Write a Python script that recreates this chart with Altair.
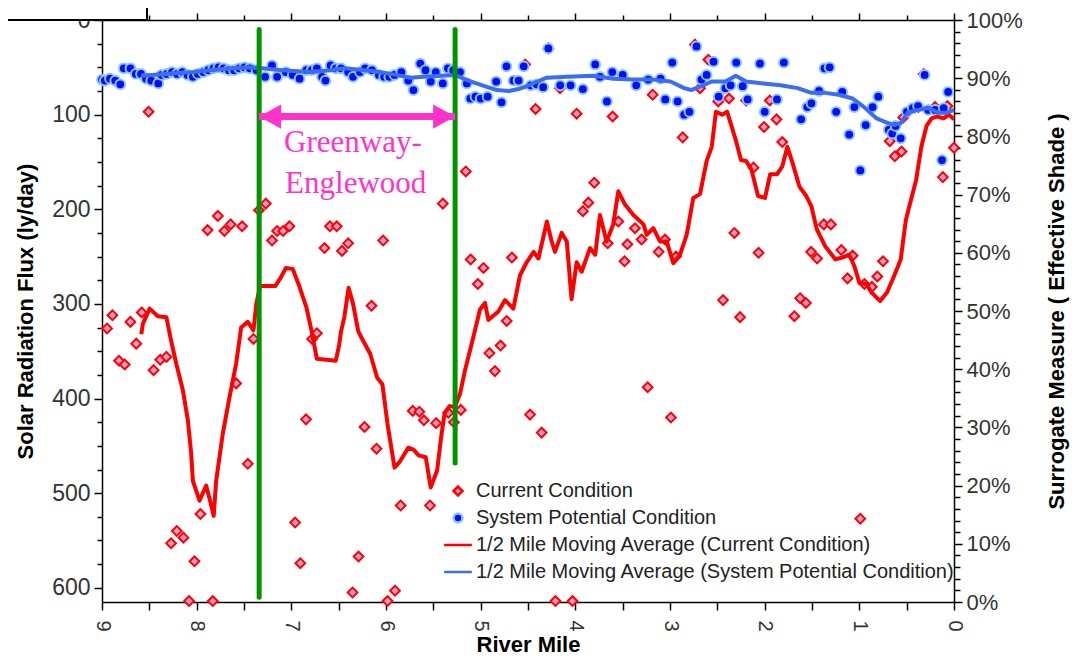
import altair as alt
import pandas as pd

# ---------------- data ----------------
cur_mile = [8.947, 8.89, 8.82, 8.76, 8.70, 8.638, 8.58, 8.508, 8.455, 8.385, 8.32, 8.27, 8.21, 8.14,
            8.08, 8.023, 7.96, 7.885, 7.83, 7.776, 7.707, 7.641, 7.583, 7.52, 7.46, 7.40, 7.342, 7.27,
            7.204, 7.15, 7.087, 7.02, 6.96, 6.905, 6.845, 6.78, 6.73, 6.65, 6.592, 6.52, 6.465, 6.40,
            6.353, 6.29, 6.227, 6.153, 6.10, 6.03, 5.984, 5.905, 5.845, 5.718, 5.648, 5.60, 5.535, 5.47,
            5.40, 5.342, 5.282, 5.21, 5.157, 5.106, 5.03, 4.97, 4.908, 4.85, 4.79, 4.725, 4.67, 4.53,
            4.479, 4.42, 4.356, 4.285, 4.21, 4.162, 4.03, 3.986, 3.92, 3.863, 3.80, 3.658, 3.606, 3.546,
            3.48, 3.45, 3.37, 3.30, 3.236, 3.183, 3.12, 3.053, 2.99, 2.937, 2.866, 2.736, 2.683, 2.595,
            2.49, 2.44, 2.377, 2.32, 2.26, 2.196, 2.118, 2.064, 2.007, 1.946, 1.875, 1.814, 1.686, 1.625,
            1.564, 1.51, 1.446, 1.375, 1.30, 1.19, 1.125, 1.071, 0.99, 0.946, 0.868, 0.81, 0.75, 0.679,
            0.625, 0.554, 0.536, 0.375, 0.32, 0.2, 0.118, 0.07, 0.0]
cur_flux = [326, 312, 360, 364, 319, 342, 309, 97, 370, 359, 356, 553, 540, 547,
            614, 572, 522, 222, 614, 207, 223, 216, 384, 218, 469, 337, 201, 194,
            233, 223, 223, 218, 531, 574, 422, 337, 331, 241, 218, 218, 244, 236,
            605, 567, 430, 302, 453, 233, 614, 603, 513, 413, 414, 423, 513, 426,
            194, 415, 425, 412, 160, 253, 279, 262, 352, 371, 344, 318, 251, 47,
            417, 94, 436, 30, 614, 72, 614, 99, 202, 193, 172, 236, 102, 213,
            255, 237, 220, 232, 388, 79, 245, 232, 420, 250, 124, 26, 72, 42,
            86, 296, 83, 225, 314, 85, 156, 246, 113, 85, 105, 129, 313, 294,
            299, 245, 252, 216, 216, 243, 273, 249, 527, 279, 282, 271, 255, 128,
            144, 139, 103, 92, 57, 92, 166, 91, 135]

sp_mile = [9.0, 8.97, 8.916, 8.86, 8.807, 8.77, 8.70, 8.643, 8.588, 8.534, 8.48, 8.406, 8.37, 8.315,
           8.26, 8.206, 8.15, 8.097, 8.04, 7.987, 7.93, 7.878, 7.823, 7.77, 7.714, 7.66, 7.605, 7.55,
           7.495, 7.44, 7.368, 7.277, 7.204, 7.15, 7.058, 6.985, 6.913, 6.84, 6.785, 6.73, 6.676, 6.64,
           6.585, 6.53, 6.475, 6.40, 6.348, 6.275, 6.22, 6.148, 6.075, 6.02, 5.965, 5.91, 5.838, 5.765,
           5.71, 5.638, 5.583, 5.528, 5.474, 5.40, 5.346, 5.29, 5.218, 5.146, 5.11, 5.055, 5.0, 4.927,
           4.836, 4.78, 4.727, 4.654, 4.60, 4.545, 4.47, 4.41, 4.34, 4.285, 4.16, 4.05, 3.92, 3.79,
           3.74, 3.666, 3.61, 3.50, 3.357, 3.23, 3.10, 3.05, 2.976, 2.92, 2.85, 2.795, 2.72, 2.668,
           2.613, 2.54, 2.486, 2.414, 2.36, 2.30, 2.232, 2.18, 2.05, 2.0, 1.87, 1.797, 1.615, 1.55,
           1.506, 1.426, 1.368, 1.314, 1.245, 1.18, 1.107, 1.053, 0.99, 0.933, 0.86, 0.80, 0.69, 0.653,
           0.617, 0.563, 0.497, 0.435, 0.38, 0.31, 0.272, 0.2, 0.127, 0.109, 0.062]
sp_flux = [63, 64, 62, 64, 68, 51, 51, 57, 57, 62, 64, 67, 58, 57,
           55, 57, 55, 58, 60, 57, 55, 53, 51, 50, 51, 53, 53, 51,
           50, 51, 53, 60, 48, 60, 55, 58, 62, 53, 53, 51, 60, 64,
           48, 51, 51, 55, 60, 55, 51, 53, 58, 60, 60, 58, 55, 64,
           74, 46, 53, 65, 55, 67, 51, 53, 55, 67, 83, 81, 83, 81,
           65, 87, 49, 64, 64, 49, 69, 68, 71, 30, 69, 69, 73, 47,
           60, 86, 55, 58, 69, 63, 62, 84, 45, 86, 100, 97, 28, 63,
           58, 44, 81, 72, 69, 45, 70, 84, 46, 97, 84, 45, 105, 92,
           88, 75, 51, 50, 97, 76, 121, 92, 159, 111, 92, 81, 116, 120,
           112, 125, 97, 93, 91, 58, 95, 95, 148, 93, 76]

cur_ma_mile = [8.585, 8.568, 8.497, 8.41, 8.32, 8.27, 8.216, 8.146, 8.093, 8.058, 8.04, 7.97, 7.90,
               7.858, 7.82, 7.794, 7.724, 7.654, 7.583, 7.53, 7.46, 7.40, 7.37, 7.33, 7.313, 7.168,
               7.11, 7.058, 6.985, 6.91, 6.84, 6.785, 6.767, 6.73, 6.53, 6.494, 6.475, 6.44, 6.395,
               6.348, 6.293, 6.257, 6.166, 6.093, 6.038, 5.984, 5.91, 5.856, 5.765, 5.71, 5.655,
               5.58, 5.528, 5.46, 5.418, 5.38, 5.328, 5.273, 5.218, 5.165, 5.077, 5.007, 4.954,
               4.919, 4.813, 4.743, 4.655, 4.585, 4.514, 4.44, 4.39, 4.30, 4.25, 4.215, 4.144, 4.09,
               4.04, 3.986, 3.933, 3.845, 3.79, 3.74, 3.67, 3.60, 3.546, 3.475, 3.387, 3.28, 3.246,
               3.176, 3.106, 3.035, 2.965, 2.894, 2.824, 2.754, 2.683, 2.613, 2.559, 2.515, 2.45,
               2.396, 2.305, 2.25, 2.196, 2.14, 2.07, 1.996, 1.942, 1.87, 1.815, 1.76, 1.706, 1.633,
               1.56, 1.506, 1.45, 1.361, 1.252, 1.18, 1.107, 1.053, 0.998, 0.926, 0.871, 0.78, 0.708,
               0.635, 0.563, 0.508, 0.454, 0.40, 0.345, 0.29, 0.236, 0.18, 0.109, 0.054, 0.0]
cur_ma_flux = [332, 321, 305, 313, 314, 339, 363, 391, 423, 458, 487, 508, 492,
               508, 524, 487, 437, 399, 363, 325, 319, 328, 300, 281, 281, 281,
               272, 262, 263, 283, 304, 329, 339, 358, 360, 343, 329, 314, 283,
               300, 329, 336, 353, 378, 385, 427, 473, 467, 452, 454, 460,
               462, 494, 476, 441, 415, 408, 409, 395, 370, 335, 306, 299,
               317, 308, 296, 305, 270, 256, 245, 252, 213, 234, 245, 225, 234,
               295, 256, 266, 241, 248, 206, 234, 216, 181, 195, 206, 216, 227,
               220, 234, 234, 257, 248, 227, 188, 184, 149, 134, 97, 100,
               97, 127, 148, 149, 158, 186, 188, 163, 163, 155, 134, 151, 176,
               186, 197, 221, 239, 253, 251, 248, 260, 278, 279, 288, 297, 288,
               271, 253, 211, 190, 169, 134, 112, 104, 102, 104, 100, 105]

sp_ma_mile = [8.588, 8.333, 8.04, 7.75, 7.459, 7.313, 7.095, 6.80, 6.585, 6.44, 6.22, 6.075, 5.89,
              5.747, 5.60, 5.42, 5.273, 5.13, 4.982, 4.83, 4.70, 4.60, 4.514, 4.40, 4.30, 4.09, 3.81,
              3.60, 3.387, 3.176, 2.995, 2.85, 2.777, 2.668, 2.559, 2.414, 2.305, 2.196, 2.015, 1.833,
              1.652, 1.506, 1.361, 1.216, 1.071, 0.962, 0.817, 0.744, 0.635, 0.563, 0.49, 0.38, 0.272,
              0.163, 0.073, 0.0]
sp_ma_flux = [59, 57, 55, 52, 50, 51, 53, 55, 53, 51, 53, 55, 58,
              61, 60, 59, 58, 64, 69, 74, 75, 73, 70, 65, 61, 60, 59,
              62, 63, 63, 65, 72, 74, 70, 65, 65, 59, 65, 67, 69,
              72, 77, 77, 79, 83, 91, 104, 107, 111, 109, 98, 95, 93,
              98, 98, 95]

green_mile = [7.34, 5.27]
green_top = [10, 10]
green_bottom = [610, 468]

arrow_left_mile = [7.34]
arrow_right_mile = [5.27]
arrow_flux = [102]

reach_text = ["Greenway-", "Englewood"]
reach_text_mile = [6.35, 6.32]
reach_text_flux = [139, 183]

S_CUR = "Current Condition"
S_SP = "System Potential Condition"
S_CMA = "1/2 Mile Moving Average (Current Condition)"
S_SMA = "1/2 Mile Moving Average (System Potential Condition)"
series_names = [S_CUR, S_SP, S_CMA, S_SMA]

# ---------------- tables ----------------
pts = pd.concat([
    pd.DataFrame({"mile": cur_mile, "flux": cur_flux, "series": S_CUR}),
    pd.DataFrame({"mile": sp_mile, "flux": sp_flux, "series": S_SP}),
], ignore_index=True)

lines = pd.concat([
    pd.DataFrame({"mile": cur_ma_mile, "flux": cur_ma_flux, "series": S_CMA,
                  "k": range(len(cur_ma_mile))}),
    pd.DataFrame({"mile": sp_ma_mile, "flux": sp_ma_flux, "series": S_SMA,
                  "k": range(len(sp_ma_mile))}),
], ignore_index=True)

green = pd.DataFrame({"mile": green_mile, "flux": green_top, "flux2": green_bottom})
shaft = pd.DataFrame({"mile": arrow_left_mile, "mile2": arrow_right_mile, "flux": arrow_flux})
head_l = pd.DataFrame({"mile": arrow_left_mile, "flux": arrow_flux})
head_r = pd.DataFrame({"mile": arrow_right_mile, "flux": arrow_flux})
txt = pd.DataFrame({"mile": reach_text_mile, "flux": reach_text_flux, "t": reach_text})
frame = pd.DataFrame({"mile2": [0, 9], "pct": [0.0, 1.0]})

# ---------------- style ----------------
FONT = "Liberation Sans"
PINK = "#FF33CC"
LINE_PATH = "M-3.1,0L3.1,0"

xscale = alt.Scale(domain=[0, 9], reverse=True, nice=False, zero=False)
yscale = alt.Scale(domain=[0, 615], reverse=True, nice=False, zero=False)

legend = alt.Legend(title=None, orient="none", legendX=346, legendY=461, direction="vertical",
                    labelFont=FONT, labelFontSize=20, labelColor="#222222", labelLimit=700,
                    symbolSize=80, symbolStrokeWidth=2.5, labelOffset=8, rowPadding=7, padding=0)

ser_shape = alt.Scale(domain=series_names, range=["diamond", "circle", LINE_PATH, LINE_PATH])
ser_fill = alt.Scale(domain=series_names, range=["#FF9CC8", "#0010F5", "#FF0000", "#3A6CF4"])
ser_stroke = alt.Scale(domain=series_names, range=["#FF0000", "#8EC4FF", "#FF0000", "#3A6CF4"])

x_bottom = alt.Axis(orient="bottom", values=[i * 0.5 for i in range(19)],
                    labelExpr="datum.value % 1 === 0 ? format(datum.value, 'd') : ''",
                    labelAngle=90, labelFont=FONT, labelFontSize=20, labelColor="#333333",
                    labelPadding=10, labelFlush=False, labelOverlap=False,
                    tickSize=8, tickWidth=1.5, tickColor="black", domainColor="black", domainWidth=1.5,
                    grid=False, title="River Mile", titleFont=FONT, titleFontSize=22,
                    titleFontWeight="bold", titleColor="black", titlePadding=3)

y_left = alt.Axis(orient="left", values=[i * 25 for i in range(25)],
                  labelExpr="datum.value % 100 === 0 ? format(datum.value, 'd') : ''",
                  labelFont=FONT, labelFontSize=23, labelColor="#333333", labelPadding=4,
                  labelOverlap=False, labelFlush=False,
                  tickSize={"condition": {"test": "datum.value % 100 === 0", "value": 8}, "value": 5},
                  tickWidth=1.5, tickColor="black", domainColor="black", domainWidth=1.5, grid=False,
                  title="Solar Radiation Flux (ly/day)", titleFont=FONT, titleFontSize=22,
                  titleFontWeight="bold", titleColor="black", titleX=-77, titleY=291,
                  titleAngle=270, titleAlign="center", titleBaseline="middle")

x_top = alt.Axis(orient="top", values=[i * 0.5 for i in range(19)], labels=False, title="",
                 tickSize={"condition": {"test": "datum.value % 1 === 0", "value": 7}, "value": 5},
                 tickWidth=1.5, tickColor="black", domainColor="black", domainWidth=1.5, grid=False)

y_right = alt.Axis(orient="right", values=[round(i * 0.02, 2) for i in range(51)],
                   labelExpr="round(datum.value * 100) % 10 === 0 ? format(datum.value, '.0%') : ''",
                   labelFont=FONT, labelFontSize=22, labelColor="#333333", labelPadding=4,
                   labelOverlap=False, labelFlush=False,
                   tickSize={"condition": {"test": "round(datum.value * 100) % 10 === 0", "value": 8},
                             "value": 6},
                   tickWidth=1.5, tickColor="black", domainColor="black", domainWidth=1.5, grid=False,
                   title="Surrogate Measure ( Effective Shade )", titleFont=FONT, titleFontSize=22,
                   titleFontWeight="bold", titleColor="black", titleX=102, titleY=291,
                   titleAngle=270, titleAlign="center", titleBaseline="middle")


def X():
    return alt.X("mile:Q", scale=xscale, axis=x_bottom)


def Y():
    return alt.Y("flux:Q", scale=yscale, axis=y_left)


points_layer = alt.Chart(pts).mark_point(filled=True, size=95, strokeWidth=2, opacity=1).encode(
    x=X(), y=Y(),
    shape=alt.Shape("series:N", scale=ser_shape, legend=legend),
    fill=alt.Fill("series:N", scale=ser_fill, legend=legend),
    stroke=alt.Stroke("series:N", scale=ser_stroke, legend=legend),
)

lines_layer = alt.Chart(lines).mark_line(strokeWidth=4, strokeJoin="round").encode(
    x=X(), y=Y(),
    stroke=alt.Stroke("series:N", scale=ser_stroke, legend=legend),
    detail="series:N",
    order="k:Q",
)

green_layer = alt.Chart(green).mark_rule(strokeWidth=5, color="#009400", strokeCap="round").encode(
    x=X(), y=Y(), y2="flux2:Q")

shaft_layer = alt.Chart(shaft).mark_rule(strokeWidth=7, color=PINK).encode(
    x=X(), x2="mile2:Q", y=Y())

head_l_layer = alt.Chart(head_l).mark_point(shape="M0,0L1,-0.55L1,0.55Z", size=1936, filled=True,
                                            color=PINK, opacity=1, strokeWidth=0).encode(x=X(), y=Y())
head_r_layer = alt.Chart(head_r).mark_point(shape="M0,0L-1,-0.55L-1,0.55Z", size=1936, filled=True,
                                            color=PINK, opacity=1, strokeWidth=0).encode(x=X(), y=Y())

text_layer = alt.Chart(txt).mark_text(font="Liberation Serif", fontSize=31, color=PINK,
                                      align="center", baseline="alphabetic").encode(
    x=X(), y=Y(), text="t:N")

box_layer = alt.Chart(frame).mark_rect(fill="white", stroke="black", strokeWidth=2).encode(
    x=alt.value(-110), x2=alt.value(45), y=alt.value(-30), y2=alt.value(0))

main = alt.layer(points_layer, lines_layer, green_layer, shaft_layer, head_l_layer, head_r_layer,
                 text_layer, box_layer)

right_layer = alt.Chart(frame).mark_point(opacity=0).encode(
    x=alt.X("mile2:Q", scale=alt.Scale(domain=[0, 9], reverse=True, nice=False, zero=False), axis=x_top),
    y=alt.Y("pct:Q", scale=alt.Scale(domain=[0, 1], nice=False, zero=False), axis=y_right),
)

chart = alt.layer(main, right_layer).resolve_scale(x="independent", y="independent").properties(
    width=852, height=582,
    padding={"left": 94, "top": 12, "right": 116, "bottom": 56},
    autosize=alt.AutoSizeParams(type="none"),
    background="white",
).configure_view(stroke="transparent")

chart.save("out.html", embed_options={"renderer": "svg", "actions": False})
